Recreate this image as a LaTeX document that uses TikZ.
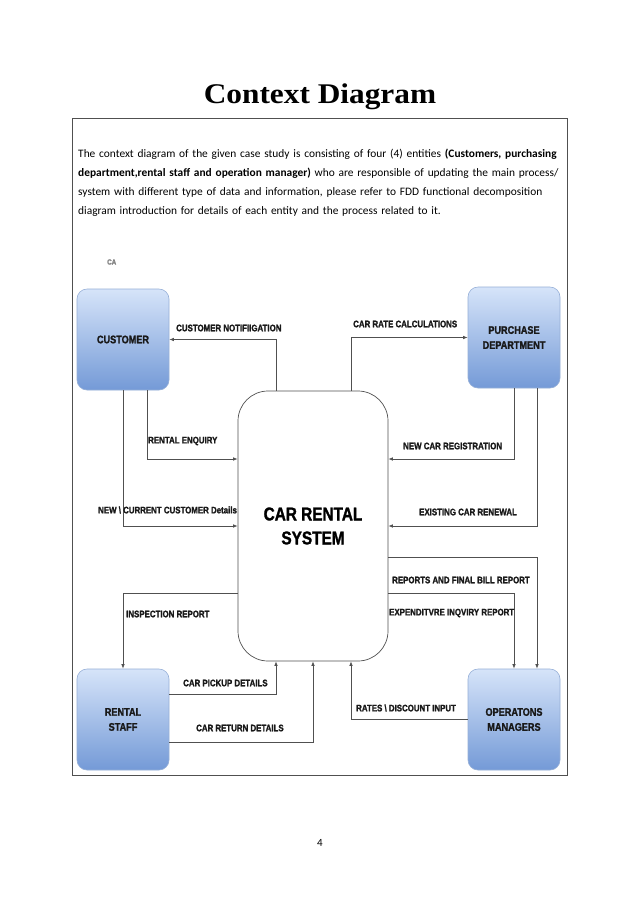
\documentclass[tikz,border=0pt]{standalone}
\usepackage{fontspec}
\setmainfont{Carlito}
\newfontfamily\titlefont[FakeStretch=1.1]{Liberation Serif}
\newfontfamily\hn[FakeStretch=0.83,BoldFeatures={FakeBold=1.5}]{Liberation Sans}
\usetikzlibrary{arrows.meta}
\definecolor{linegray}{RGB}{80,80,80}
\definecolor{boxtop}{RGB}{214,228,249}
\definecolor{boxbot}{RGB}{116,154,215}
\definecolor{boxedge}{RGB}{150,175,215}
\definecolor{labtext}{RGB}{25,25,25}
\newcommand{\fullline}[1]{\hbox to 484pt{#1}}
\begin{document}
\begin{tikzpicture}[x=1pt,y=-1pt,
  entity/.style={rounded corners=10pt,top color=boxtop,bottom color=boxbot,draw=boxedge,line width=0.6pt,
    minimum width=92pt,minimum height=101pt,inner sep=0pt,align=center,
    font=\hn\bfseries\fontsize{11}{15}\selectfont,text=labtext},
  proc/.style={rounded corners=30pt,draw=linegray,fill=white,line width=0.7pt,
    minimum width=150pt,minimum height=270pt,inner sep=0pt,align=center,
    font=\hn\bfseries\fontsize{18.5}{24}\selectfont,text=black},
  flow/.style={draw=linegray,line width=0.7pt,-{Latex[length=4.5pt,width=3.5pt]}},
  lab/.style={anchor=west,inner sep=0pt,font=\hn\bfseries\fontsize{9.5}{11}\selectfont,text=labtext}]
\useasboundingbox (0,0) rectangle (638,903);
\fill[white] (0,0) rectangle (638,903);
% title and frame
\node[font=\titlefont\bfseries\fontsize{28.5}{32}\selectfont] (title) at (320,97) {Context Diagram};
\draw[linegray,line width=0.8pt] (72,118) rectangle (567,775);
\node[anchor=north west,inner sep=0pt,text width=484pt,align=left,
  font=\fontsize{11.4}{19}\selectfont] (intro) at (78,149)
  {\fullline{The context diagram of the given case study is consisting of four (4) entities \textbf{(Customers, purchasing}}
   \fullline{\textbf{department,rental staff and operation manager)} who are responsible of updating the main process/}
   \fullline{system with different type of data and information, please refer to FDD functional decomposition}
   \hbox{diagram introduction for details of each entity and the process related to it.}};
\node[font=\fontsize{11}{13}\selectfont] (pagenum) at (320,843) {4};
% entities
\node[lab,text=gray,font=\hn\bfseries\fontsize{7.5}{9}\selectfont] (ca) at (107,262) {CA};
\node[entity] (cust) at (123,339.5) {CUSTOMER};
\node[entity] (purch) at (514,337.5) {PURCHASE\\DEPARTMENT};
\node[entity] (staff) at (123,719.5) {RENTAL\\STAFF};
\node[entity] (ops) at (514,719.5) {OPERATONS\\MANAGERS};
\node[proc] (crs) at (313,526) {CAR RENTAL\\SYSTEM};
% connectors
\draw[flow] ([xshift=-37pt]crs.north) |- (cust.east);
\draw[flow] ([xshift=38pt]crs.north) |- (purch.west);
\draw[flow] ([xshift=24pt]cust.south) |- ([yshift=67pt]crs.west);
\draw[flow] (cust.south) |- (crs.west);
\draw[flow] ([yshift=-67pt]crs.west) -| (staff.north);
\draw[flow] ([yshift=25.5pt]staff.east) -| ([xshift=-37pt]crs.south);
\draw[flow] ([yshift=-22.5pt]staff.east) -| (crs.south);
\draw[flow] (purch.south) |- ([yshift=67pt]crs.east);
\draw[flow] ([xshift=23pt]purch.south) |- (crs.east);
\draw[flow] ([yshift=-31pt]crs.east) -| ([xshift=23pt]ops.north);
\draw[flow] ([yshift=-67pt]crs.east) -| (ops.north);
\draw[flow] (ops.west) -| ([xshift=38pt]crs.south);
% labels
\node[lab] (l1) at (176,328) {CUSTOMER NOTIFIIGATION};
\node[lab] (l2) at (353,324) {CAR RATE CALCULATIONS};
\node[lab] (l3) at (148,441) {RENTAL ENQUIRY};
\node[lab] (l4) at (98,510) {NEW \textbackslash\ CURRENT CUSTOMER Details};
\node[lab] (l5) at (126,614) {INSPECTION REPORT};
\node[lab] (l6) at (183,683) {CAR PICKUP DETAILS};
\node[lab] (l7) at (196,728) {CAR RETURN DETAILS};
\node[lab] (l8) at (403,446) {NEW CAR REGISTRATION};
\node[lab] (l9) at (419,512) {EXISTING CAR RENEWAL};
\node[lab] (l10) at (392,580) {REPORTS AND FINAL BILL REPORT};
\node[lab] (l11) at (389,613) {EXPENDITVRE INQVIRY REPORT};
\node[lab] (l12) at (356,708) {RATES \textbackslash\ DISCOUNT INPUT};
\end{tikzpicture}
\end{document}
